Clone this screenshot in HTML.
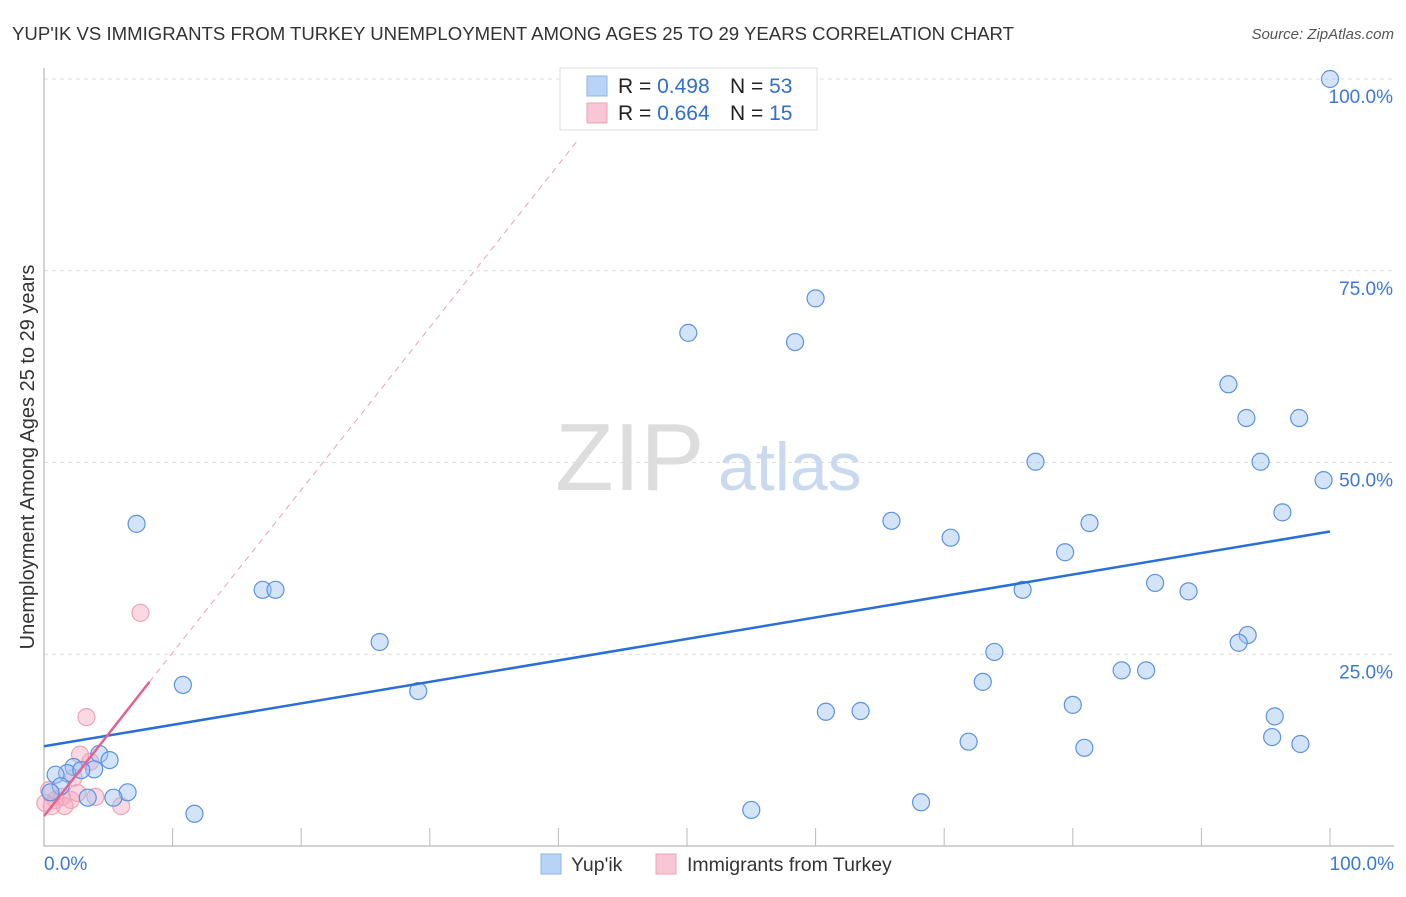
<!DOCTYPE html>
<html><head><meta charset="utf-8"><style>
body{margin:0;background:#fff;font-family:"Liberation Sans",sans-serif;}
svg text{font-family:"Liberation Sans",sans-serif;}
</style></head><body>
<svg id="chart" width="1406" height="892">
<text x="12" y="40" font-size="18.6" fill="#333">YUP'IK VS IMMIGRANTS FROM TURKEY UNEMPLOYMENT AMONG AGES 25 TO 29 YEARS CORRELATION CHART</text>
<text x="1394" y="39" font-size="15" fill="#555" font-style="italic" text-anchor="end">Source: ZipAtlas.com</text>
<text x="34" y="457" font-size="20" fill="#333" text-anchor="middle" transform="rotate(-90 34 457)">Unemployment Among Ages 25 to 29 years</text>
<text x="555" y="490" font-size="96" fill="#ddd" font-family="Liberation Serif">ZIP</text>
<text x="718" y="490" font-size="68" fill="#c9d9f0">atlas</text>
<g id="grid"></g><g id="axes"></g><g id="marks"></g>
<g>
<rect x="560" y="68" width="257" height="62" fill="#fff" stroke="#ddd"/>
<rect x="587" y="76" width="20" height="20" fill="#b8d3f5" stroke="#8fb5e8"/>
<rect x="587" y="103" width="20" height="20" fill="#f8c6d4" stroke="#eea3b8"/>
<text x="618" y="93" font-size="21" fill="#222">R = <tspan fill="#2e6fd1">0.498</tspan><tspan x="730">N = </tspan><tspan fill="#2e6fd1">53</tspan></text>
<text x="618" y="120" font-size="21" fill="#222">R = <tspan fill="#2e6fd1">0.664</tspan><tspan x="730">N = </tspan><tspan fill="#2e6fd1"> 15</tspan></text>
</g>
<g>
<rect x="541" y="854" width="20" height="20" fill="#b8d3f5" stroke="#8fb5e8"/>
<text x="571" y="871" font-size="19.5" fill="#333">Yup'ik</text>
<rect x="656" y="854" width="20" height="20" fill="#f8c6d4" stroke="#eea3b8"/>
<text x="687" y="871" font-size="19.5" fill="#333">Immigrants from Turkey</text>
</g>
</svg>
<script>
const yTickVals=[25,50,75,100];
const yTickLabels=["25.0%","50.0%","75.0%","100.0%"];
const xTickVals=[10,20,30,40,50,60,70,80,90,100];
const blueX=[100,60,50.1,58.4,92.1,93.5,97.6,77.1,94.6,99.5,96.3,7.2,65.9,81.3,70.5,79.4,86.4,89,76.1,17,18,26.1,93.6,92.9,73.9,83.8,85.7,10.8,73,29.1,80,60.8,63.5,95.7,95.5,71.9,97.7,80.9,4.3,5.1,3.9,2.3,1.8,0.9,1.3,0.5,6.5,3.4,5.4,11.7,55,68.2,2.9];
const blueY=[100,71.4,66.9,65.7,60.2,55.8,55.8,50.1,50.1,47.7,43.5,42,42.4,42.1,40.2,38.3,34.3,33.2,33.4,33.4,33.4,26.6,27.5,26.5,25.3,22.9,22.9,21,21.4,20.2,18.4,17.5,17.6,16.9,14.2,13.6,13.3,12.8,12,11.2,10,10.3,9.5,9.3,7.8,7,7,6.3,6.3,4.2,4.7,5.7,9.9];
const pinkX=[7.5,3.3,2.8,3.6,2.3,0.4,1.4,0.9,2.1,2.6,4,6,1.6,0.1,0.6];
const pinkY=[30.4,16.8,11.9,11,8.9,7.3,6.4,6,6,6.9,6.4,5.2,5.2,5.6,5.2];
const blueTrend=[[0,13],[100,41]];
const pinkTrend=[[0,3.9],[8.2,21.4]];
const pinkDash=[[8.2,21.4],[41.5,92]];
const NS="http://www.w3.org/2000/svg";
const sx=v=>44+v*12.86, sy=v=>846-v*7.67;
function mk(t,a,p){const e=document.createElementNS(NS,t);for(const k in a)e.setAttribute(k,a[k]);p.appendChild(e);return e;}
const grid=document.getElementById('grid'),axes=document.getElementById('axes'),marks=document.getElementById('marks');
yTickVals.forEach((v,i)=>{
 const l=mk('line',{x1:44,x2:1394,y1:sy(v),y2:sy(v),stroke:'#ddd','stroke-dasharray':'4,4'},grid);
 
 
 const t=mk('text',{x:1393,y:sy(v)+24,'font-size':19,fill:'#3b78d8','text-anchor':'end'},axes);
 t.textContent=yTickLabels[i];
 
 
});
const ax=mk('path',{d:'M44 68V846H1394',fill:'none',stroke:'#aaa'},axes);


xTickVals.forEach(v=>{
 const l=mk('line',{x1:sx(v),x2:sx(v),y1:828,y2:846,stroke:'#bbb'},axes);
 
 
});
[["0.0%",44,"start"],["100.0%",1394,"end"]].forEach(d=>{
 const t=mk('text',{x:d[1],y:870,'font-size':19,fill:'#3b78d8','text-anchor':d[2]},axes);
 t.textContent=d[0];
 
 
});
pinkX.forEach((x,i)=>{
 const c=mk('circle',{cx:sx(x),cy:sy(pinkY[i]),r:8.5,fill:'rgba(245,170,192,0.45)',stroke:'#eea3b8','stroke-width':1.2},marks);
 
 
});
blueX.forEach((x,i)=>{
 const c=mk('circle',{cx:sx(x),cy:sy(blueY[i]),r:8.5,fill:'rgba(160,196,240,0.45)',stroke:'#5b93e0','stroke-width':1.2},marks);
 
 
});
const bt=mk('line',{x1:sx(blueTrend[0][0]),y1:sy(blueTrend[0][1]),x2:sx(blueTrend[1][0]),y2:sy(blueTrend[1][1]),stroke:'#2a6fd6','stroke-width':2.5},marks);


const pt=mk('line',{x1:sx(pinkTrend[0][0]),y1:sy(pinkTrend[0][1]),x2:sx(pinkTrend[1][0]),y2:sy(pinkTrend[1][1]),stroke:'#e4638f','stroke-width':2.5},marks);


const pd=mk('line',{x1:sx(pinkDash[0][0]),y1:sy(pinkDash[0][1]),x2:sx(pinkDash[1][0]),y2:sy(pinkDash[1][1]),stroke:'#eaa0b8','stroke-width':1,'stroke-dasharray':'6,5'},marks);


</script>
</body></html>
